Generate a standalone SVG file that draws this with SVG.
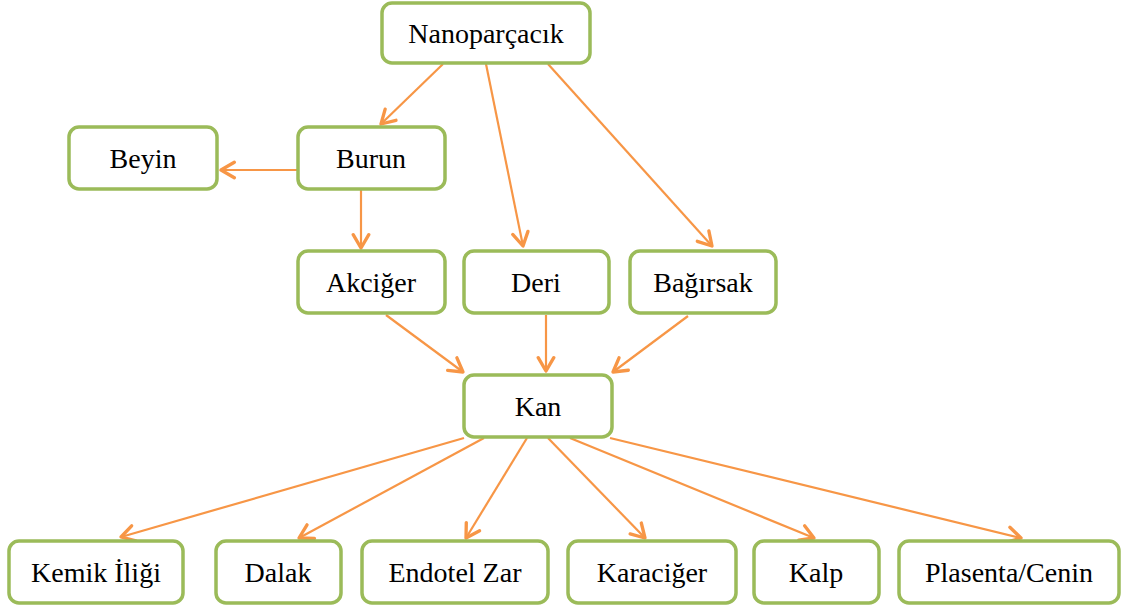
<svg xmlns="http://www.w3.org/2000/svg" width="1129" height="610" viewBox="0 0 1129 610">
<style>
.box{fill:#fff;stroke:#9BBB59;stroke-width:3.5}
.lbl{font-family:"Liberation Serif","Times New Roman",serif;font-size:28px;fill:#000;text-anchor:middle}
.c{stroke:#F79646;stroke-width:2.2;fill:none;marker-end:url(#ah)}
</style>
<defs>
<marker id="ah" markerUnits="userSpaceOnUse" markerWidth="20" markerHeight="20" viewBox="-14 -9 16 18" refX="0" refY="0" orient="auto">
<path d="M-12,-7 L0,0 L-12,7" fill="none" stroke="#F79646" stroke-width="3" stroke-linecap="round" stroke-linejoin="round"/>
</marker>
</defs>
<rect width="1129" height="610" fill="#fff"/>
<g id="connectors">
<line class="c" x1="443" y1="64" x2="381" y2="124"/>
<line class="c" x1="486" y1="64" x2="523" y2="246"/>
<line class="c" x1="548" y1="64" x2="712" y2="246"/>
<line class="c" x1="297" y1="170" x2="221" y2="170"/>
<line class="c" x1="361" y1="190" x2="361" y2="248"/>
<line class="c" x1="386" y1="315" x2="463" y2="372"/>
<line class="c" x1="546" y1="315" x2="546" y2="371"/>
<line class="c" x1="688" y1="316" x2="613" y2="372"/>
<line class="c" x1="464" y1="438" x2="121" y2="537"/>
<line class="c" x1="484" y1="438" x2="299" y2="538"/>
<line class="c" x1="527" y1="438" x2="466" y2="538"/>
<line class="c" x1="548" y1="438" x2="645" y2="538"/>
<line class="c" x1="570" y1="438" x2="814" y2="538"/>
<line class="c" x1="610" y1="438" x2="1021" y2="538"/>
</g>
<g id="n-nanoparcacik"><rect class="box" x="382" y="3" width="208" height="60" rx="10"/><text class="lbl" x="486" y="43">Nanoparçacık</text></g>
<g id="n-beyin"><rect class="box" x="69" y="127" width="148" height="62" rx="10"/><text class="lbl" x="143" y="168">Beyin</text></g>
<g id="n-burun"><rect class="box" x="298" y="127" width="147" height="62" rx="10"/><text class="lbl" x="371" y="168">Burun</text></g>
<g id="n-akciger"><rect class="box" x="298" y="251" width="147" height="62" rx="10"/><text class="lbl" x="371" y="292">Akciğer</text></g>
<g id="n-deri"><rect class="box" x="464" y="251" width="145" height="62" rx="10"/><text class="lbl" x="536" y="292">Deri</text></g>
<g id="n-bagirsak"><rect class="box" x="630" y="251" width="146" height="62" rx="10"/><text class="lbl" x="703" y="292">Bağırsak</text></g>
<g id="n-kan"><rect class="box" x="464" y="375" width="148" height="62" rx="10"/><text class="lbl" x="538" y="416">Kan</text></g>
<g id="n-kemik"><rect class="box" x="9" y="541" width="174" height="62" rx="10"/><text class="lbl" x="96" y="582">Kemik İliği</text></g>
<g id="n-dalak"><rect class="box" x="216" y="541" width="125" height="62" rx="10"/><text class="lbl" x="278" y="582">Dalak</text></g>
<g id="n-endotel"><rect class="box" x="362" y="541" width="186" height="62" rx="10"/><text class="lbl" x="455" y="582">Endotel Zar</text></g>
<g id="n-karaciger"><rect class="box" x="568" y="541" width="168" height="62" rx="10"/><text class="lbl" x="652" y="582">Karaciğer</text></g>
<g id="n-kalp"><rect class="box" x="754" y="541" width="125" height="62" rx="10"/><text class="lbl" x="816" y="582">Kalp</text></g>
<g id="n-plasenta"><rect class="box" x="899" y="541" width="220" height="62" rx="10"/><text class="lbl" x="1009" y="582">Plasenta/Cenin</text></g>
</svg>
